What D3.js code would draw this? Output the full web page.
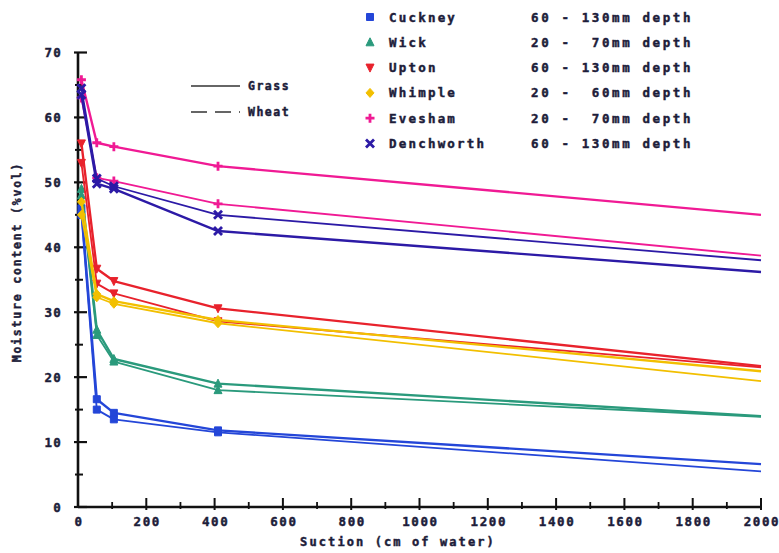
<!DOCTYPE html>
<html>
<head>
<meta charset="utf-8">
<script src="https://cdn.jsdelivr.net/npm/d3@7/dist/d3.min.js"></script>
<style>
  html, body { margin: 0; padding: 0; background: #fff; }
  svg { display: block; }
  text { font-family: "DejaVu Sans Mono", monospace; font-weight: bold; fill: #1d1d3a; stroke: #1d1d3a; stroke-width: 0.45px; }
</style>
</head>
<body>
<svg id="chart" width="779" height="553"></svg>
<script>
// Suction steps (cm of water) shared by every retention curve
const suction = [10, 55, 105, 410, 2000];

// Soil series and sampled depths
const sites = ["Cuckney", "Wick", "Upton", "Whimple", "Evesham", "Denchworth"];
const depths = ["60 - 130mm depth", "20 -  70mm depth", "60 - 130mm depth",
                "20 -  60mm depth", "20 -  70mm depth", "60 - 130mm depth"];
const siteColors = ["#2446d8", "#2a9a7c", "#e8222c", "#f2bf00", "#f01a94", "#2c1aa6"];
const siteSymbols = ["square", "triangleUp", "triangleDown", "diamond", "plus", "cross"];

// Moisture content (% vol) under grass and under wheat
const cuckneyGrass    = [46.0, 16.6, 14.5, 11.8, 6.6];
const cuckneyWheat    = [45.0, 15.0, 13.5, 11.5, 5.5];
const wickGrass       = [49.0, 27.3, 22.8, 19.0, 14.0];
const wickWheat       = [48.0, 26.5, 22.4, 18.0, 13.9];
const uptonGrass      = [56.0, 36.7, 34.8, 30.6, 21.7];
const uptonWheat      = [53.0, 34.4, 32.9, 28.6, 21.5];
const whimpleGrass    = [47.0, 32.8, 31.7, 28.8, 20.9];
const whimpleWheat    = [45.0, 32.3, 31.3, 28.3, 19.4];
const eveshamGrass    = [65.8, 56.1, 55.5, 52.5, 45.0];
const eveshamWheat    = [63.0, 50.7, 50.2, 46.7, 38.7];
const denchworthGrass = [63.5, 49.8, 49.0, 42.5, 36.2];
const denchworthWheat = [64.5, 50.6, 49.4, 45.0, 38.0];

const grassSeries = [cuckneyGrass, wickGrass, uptonGrass, whimpleGrass, eveshamGrass, denchworthGrass];
const wheatSeries = [cuckneyWheat, wickWheat, uptonWheat, whimpleWheat, eveshamWheat, denchworthWheat];

// Axis ticks
const xMajorTicks = [0, 200, 400, 600, 800, 1000, 1200, 1400, 1600, 1800, 2000];
const xMinorTicks = [100, 300, 500, 700, 900, 1100, 1300, 1500, 1700, 1900];
const yMajorTicks = [0, 10, 20, 30, 40, 50, 60, 70];
const yMinorTicks = [5, 15, 25, 35, 45, 55, 65];

const svg = d3.select("#chart");

const x = d3.scaleLinear().domain([0, 2000]).range([78, 761]);
const y = d3.scaleLinear().domain([0, 70]).range([507, 52.5]);

const axisColor = "#111";

// Axis lines
svg.append("line").attr("x1", x(0)).attr("x2", x(0)).attr("y1", y(0)).attr("y2", y(70))
  .attr("stroke", axisColor).attr("stroke-width", 2.6);
svg.append("line").attr("x1", x(0)).attr("x2", x(2000)).attr("y1", y(0)).attr("y2", y(0))
  .attr("stroke", axisColor).attr("stroke-width", 2.6);

// Y ticks
svg.selectAll(".ymaj").data(yMajorTicks).enter().append("line")
  .attr("x1", x(0) - 4).attr("x2", x(0) + 9)
  .attr("y1", d => y(d)).attr("y2", d => y(d))
  .attr("stroke", axisColor).attr("stroke-width", 2.2);
svg.selectAll(".ymin").data(yMinorTicks).enter().append("line")
  .attr("x1", x(0) - 3).attr("x2", x(0) + 5)
  .attr("y1", d => y(d)).attr("y2", d => y(d))
  .attr("stroke", axisColor).attr("stroke-width", 2);
svg.selectAll(".ylab").data(yMajorTicks).enter().append("text")
  .attr("x", x(0) - 16).attr("y", d => y(d) + 4.5)
  .attr("text-anchor", "end").attr("font-size", 12.5)
  .style("letter-spacing", "1.2px")
  .text(d => d);

// X ticks
svg.selectAll(".xmaj").data(xMajorTicks.filter(d => d > 0)).enter().append("line")
  .attr("x1", d => x(d)).attr("x2", d => x(d))
  .attr("y1", y(0) + 3).attr("y2", y(0) - 9)
  .attr("stroke", axisColor).attr("stroke-width", 2);
svg.selectAll(".xmin").data(xMinorTicks).enter().append("line")
  .attr("x1", d => x(d)).attr("x2", d => x(d))
  .attr("y1", y(0) + 2).attr("y2", y(0) - 5)
  .attr("stroke", axisColor).attr("stroke-width", 1.8);
svg.selectAll(".xlab").data(xMajorTicks).enter().append("text")
  .attr("x", d => x(d) + 1).attr("y", y(0) + 19)
  .attr("text-anchor", "middle").attr("font-size", 12.5)
  .style("letter-spacing", "1.6px")
  .text(d => d);

// Axis titles
svg.append("text")
  .attr("x", 398).attr("y", 546)
  .attr("text-anchor", "middle").attr("font-size", 12)
  .style("letter-spacing", "2.1px")
  .text("Suction (cm of water)");
svg.append("text")
  .attr("transform", "translate(21,262) rotate(-90)")
  .attr("text-anchor", "middle").attr("font-size", 11.5)
  .style("letter-spacing", "1.8px")
  .text("Moisture content (%vol)");

// Marker shapes
function markerPath(kind, s) {
  const h = s / 2;
  switch (kind) {
    case "square": return `M${-h},${-h}H${h}V${h}H${-h}Z`;
    case "triangleUp": return `M0,${-h - 1}L${h + 0.5},${h}L${-h - 0.5},${h}Z`;
    case "triangleDown": return `M0,${h + 1}L${h + 0.5},${-h}L${-h - 0.5},${-h}Z`;
    case "diamond": return `M0,${-h - 1}L${h + 0.5},0L0,${h + 1}L${-h - 0.5},0Z`;
    default: return "";
  }
}
function drawMarker(g, kind, cx, cy, color, s) {
  if (kind === "plus") {
    g.append("path").attr("d", `M${cx - s / 2 - 1},${cy}H${cx + s / 2 + 1}M${cx},${cy - s / 2 - 1}V${cy + s / 2 + 1}`)
      .attr("stroke", color).attr("stroke-width", 2.8).attr("fill", "none");
  } else if (kind === "cross") {
    const h = s / 2 + 0.5;
    g.append("path").attr("d", `M${cx - h},${cy - h}L${cx + h},${cy + h}M${cx - h},${cy + h}L${cx + h},${cy - h}`)
      .attr("stroke", color).attr("stroke-width", 2.8).attr("fill", "none");
  } else {
    g.append("path").attr("d", markerPath(kind, s))
      .attr("transform", `translate(${cx},${cy})`)
      .attr("fill", color).attr("stroke", color).attr("stroke-width", 1);
  }
}

const line = d3.line()
  .x((d, i) => x(suction[i]))
  .y(d => y(d));

const plot = svg.append("g");

// Curves: grass drawn heavier, wheat lighter
sites.forEach((site, k) => {
  const color = siteColors[k];
  [[wheatSeries[k], "wheat"], [grassSeries[k], "grass"]].forEach(([vals, crop]) => {
    plot.append("path")
      .datum(vals)
      .attr("d", line)
      .attr("fill", "none")
      .attr("stroke", color)
      .attr("stroke-width", crop === "grass" ? 2.4 : 1.8)
      .attr("stroke-linejoin", "round");
    vals.forEach((v, i) => {
      if (i < vals.length - 1) drawMarker(plot, siteSymbols[k], x(suction[i]), y(v), color, 7);
    });
  });
});

// Crop legend
const cropLegend = svg.append("g");
cropLegend.append("line").attr("x1", 191).attr("x2", 240).attr("y1", 86).attr("y2", 86)
  .attr("stroke", "#333").attr("stroke-width", 1.6);
cropLegend.append("line").attr("x1", 191).attr("x2", 240).attr("y1", 112).attr("y2", 112)
  .attr("stroke", "#333").attr("stroke-width", 1.6).attr("stroke-dasharray", "16,8");
cropLegend.append("text").attr("x", 248).attr("y", 90).attr("font-size", 11.5)
  .style("letter-spacing", "1.5px").text("Grass");
cropLegend.append("text").attr("x", 248).attr("y", 116).attr("font-size", 11.5)
  .style("letter-spacing", "1.5px").text("Wheat");

// Site legend
const legend = svg.append("g");
sites.forEach((site, k) => {
  const cy = 17 + k * 25.3;
  drawMarker(legend, siteSymbols[k], 370, cy, siteColors[k], 7);
  legend.append("text").attr("x", 389).attr("y", cy + 4.5)
    .attr("font-size", 12.5).style("letter-spacing", "2.2px").text(site);
  legend.append("text").attr("x", 531).attr("y", cy + 4.5)
    .attr("font-size", 12.5).style("letter-spacing", "2.6px")
    .attr("xml:space", "preserve").style("white-space", "pre")
    .text(depths[k]);
});
</script>
</body>
</html>
